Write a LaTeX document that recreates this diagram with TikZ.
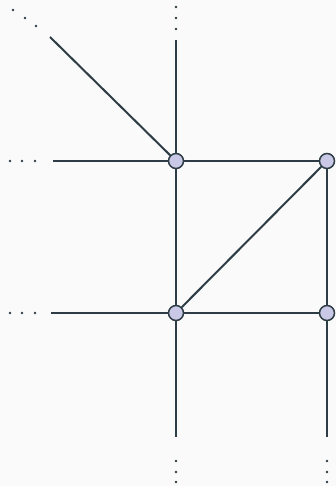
\documentclass[tikz,border=0pt]{standalone}
\begin{document}
\begin{tikzpicture}[x=1pt,y=-1pt,
  edge/.style={draw=lineC,line width=2pt},
  vert/.style={circle,draw=lineC,fill=nodeC,line width=1.5pt,minimum size=15pt,inner sep=0pt},
  dot/.style={circle,fill=lineC,inner sep=0pt,minimum size=2.8pt}]
\definecolor{lineC}{HTML}{2E3D45}
\definecolor{nodeC}{HTML}{C9C8E6}
\definecolor{bgC}{HTML}{FAFAFA}
\fill[bgC] (0,0) rectangle (336,486);
\useasboundingbox (0,0) rectangle (336,486);
\coordinate (tA) at (176,40);
\coordinate (dA) at (50,37);
\coordinate (lA) at (53,161);
\coordinate (lC) at (51,313);
\coordinate (bC) at (176,437);
\coordinate (bD) at (327,437);
\node[vert] (A) at (176,161) {};
\node[vert] (B) at (327,161) {};
\node[vert] (C) at (176,313) {};
\node[vert] (D) at (327,313) {};
\begin{scope}[on background layer/.try]
\end{scope}
\draw[edge] (tA) -- (A);
\draw[edge] (dA) -- (A);
\draw[edge] (lA) -- (A);
\draw[edge] (A) -- (B);
\draw[edge] (A) -- (C);
\draw[edge] (B) -- (C);
\draw[edge] (B) -- (D);
\draw[edge] (lC) -- (C);
\draw[edge] (C) -- (D);
\draw[edge] (C) -- (bC);
\draw[edge] (D) -- (bD);
\foreach \p [count=\i] in {(13,10),(25,18),(36,26),(176,7),(176,18),(176,29),(10,161),(22,161),(35,161),(10,313),(22,313),(35,313),(176,461),(176,472),(176,482),(327,461),(327,472),(327,482)}
  \node[dot] (dt\i) at \p {};
\end{tikzpicture}
\end{document}
